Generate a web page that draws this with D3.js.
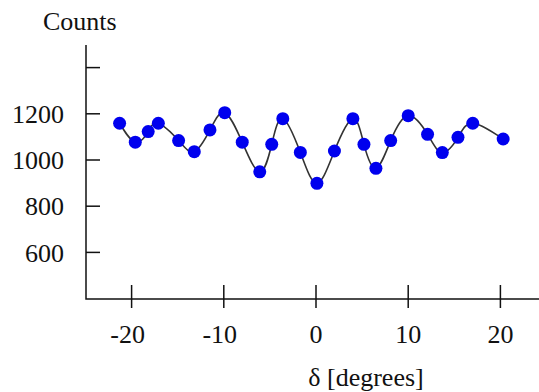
<!DOCTYPE html>
<html>
<head>
<meta charset="utf-8">
<script src="https://cdn.jsdelivr.net/npm/d3@7"></script>
<style>
  body { margin: 0; background: #fff; }
</style>
</head>
<body>
<script>
// scan angle in degrees
const delta = [-21.3, -19.6, -18.2, -17.1, -14.9, -13.2, -11.5, -9.9, -8.0, -6.1,
  -4.8, -3.6, -1.7, 0.1, 2.0, 4.0, 5.2, 6.5, 8.1, 10.0, 12.1, 13.7, 15.4, 17.0, 20.3];
const counts = [1159, 1077, 1123, 1159, 1084, 1036, 1130, 1205, 1077, 949,
  1068, 1179, 1033, 899, 1039, 1179, 1068, 964, 1084, 1192, 1111, 1032, 1098, 1159, 1091];
const xTicks = [-20, -10, 0, 10, 20];
const yTicks = [600, 800, 1000, 1200, 1400];
const yLabelled = [600, 800, 1000, 1200];

const width = 539, height = 392;
const axisX = 86, axisY = 299;
const serif = '"Liberation Serif", "DejaVu Serif", "Times New Roman", serif';

const x = d3.scaleLinear().domain([-25, 25]).range([85.5, 546.5]);
const y = d3.scaleLinear().domain([1000, 1200]).range([160, 113.8]);

const $svg = d3.select('body').append('svg')
  .attr('width', width).attr('height', height)
  .attr('font-family', serif);

// axis lines
$svg.append('path')
  .attr('d', `M${axisX},45V${axisY}H${width}`)
  .attr('fill', 'none').attr('stroke', '#111').attr('stroke-width', 1.5);

// y ticks point inward
$svg.append('g').selectAll('line').data(yTicks).join('line')
  .attr('x1', axisX).attr('x2', axisX + 14)
  .attr('y1', d => y(d)).attr('y2', d => y(d))
  .attr('stroke', '#111').attr('stroke-width', 1.5);

$svg.append('g').selectAll('text').data(yLabelled).join('text')
  .attr('x', 64).attr('y', d => y(d))
  .attr('dy', '0.35em')
  .attr('text-anchor', 'end')
  .attr('font-family', serif)
  .attr('font-size', 26)
  .attr('fill', '#111')
  .text(d => d);

// x ticks cross the axis
$svg.append('g').selectAll('line').data(xTicks).join('line')
  .attr('x1', d => x(d)).attr('x2', d => x(d))
  .attr('y1', axisY - 14).attr('y2', axisY + 9)
  .attr('stroke', '#111').attr('stroke-width', 1.5);

$svg.append('g').selectAll('text').data(xTicks).join('text')
  .attr('x', d => x(d) - (d < 0 ? 4 : 0)).attr('y', 343)
  .attr('text-anchor', 'middle')
  .attr('font-family', serif)
  .attr('font-size', 26)
  .attr('fill', '#111')
  .text(d => d);

$svg.append('text')
  .attr('x', 43).attr('y', 30)
  .attr('font-family', serif)
  .attr('font-size', 26)
  .attr('fill', '#111')
  .text('Counts');

$svg.append('text')
  .attr('x', 366).attr('y', 386)
  .attr('text-anchor', 'middle')
  .attr('font-family', serif)
  .attr('font-size', 26)
  .attr('fill', '#111')
  .text('δ [degrees]');

const pts = delta.map((d, i) => [d, counts[i]]);

const line = d3.line()
  .x(d => x(d[0]))
  .y(d => y(d[1]))
  .curve(d3.curveNatural);

$svg.append('path')
  .datum(pts)
  .attr('d', line)
  .attr('fill', 'none')
  .attr('stroke', '#333')
  .attr('stroke-width', 1.6);

$svg.append('g').selectAll('circle').data(pts).join('circle')
  .attr('cx', d => x(d[0]))
  .attr('cy', d => y(d[1]))
  .attr('r', 6.5)
  .attr('fill', '#0000ee');
</script>
</body>
</html>
